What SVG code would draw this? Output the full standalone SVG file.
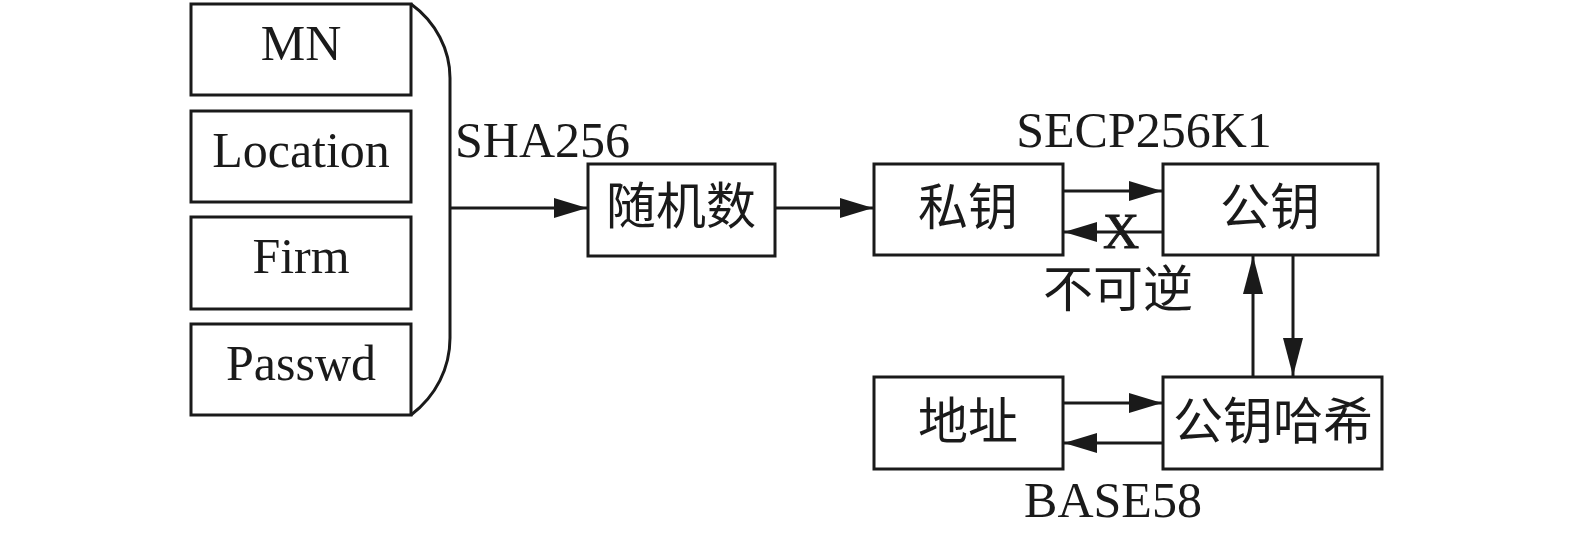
<svg xmlns="http://www.w3.org/2000/svg" width="1575" height="539" viewBox="0 0 1575 539">
<style>
.box{fill:#fff;stroke:#1a1a1a;stroke-width:3}
.ln{fill:none;stroke:#1a1a1a;stroke-width:3}
.lt{font-family:"Liberation Serif","Times New Roman",serif;font-size:50px;fill:#1a1a1a}
.cj{font-family:"Liberation Serif","Noto Sans CJK SC",serif;font-size:50px;fill:#1a1a1a}
</style>
<defs>
<marker id="ah" viewBox="0 0 33 20" refX="33" refY="10" markerWidth="33" markerHeight="20" markerUnits="userSpaceOnUse" orient="auto">
<path d="M0,0 L33,10 L0,20 Z" fill="#1a1a1a"/>
</marker>
<marker id="av" viewBox="0 0 38 20" refX="38" refY="10" markerWidth="38" markerHeight="20" markerUnits="userSpaceOnUse" orient="auto">
<path d="M0,0 L38,10 L0,20 Z" fill="#1a1a1a"/>
</marker>
</defs>
<rect width="1575" height="539" fill="#fff"/>
<g id="mn"><rect class="box" x="191" y="4" width="220" height="91"/><text class="lt" x="301" y="60" text-anchor="middle">MN</text></g>
<g id="location"><rect class="box" x="191" y="111" width="220" height="91"/><text class="lt" x="301" y="167" text-anchor="middle">Location</text></g>
<g id="firm"><rect class="box" x="191" y="217" width="220" height="92"/><text class="lt" x="301" y="273" text-anchor="middle">Firm</text></g>
<g id="passwd"><rect class="box" x="191" y="324" width="220" height="91"/><text class="lt" x="301" y="380" text-anchor="middle">Passwd</text></g>
<g id="random"><rect class="box" x="588" y="164" width="187" height="92"/><text class="cj" x="681" y="224" text-anchor="middle">随机数</text></g>
<g id="privkey"><rect class="box" x="874" y="164" width="189" height="91"/><text class="cj" x="968" y="225" text-anchor="middle">私钥</text></g>
<g id="pubkey"><rect class="box" x="1163" y="164" width="215" height="91"/><text class="cj" x="1270" y="225" text-anchor="middle">公钥</text></g>
<g id="address"><rect class="box" x="874" y="377" width="189" height="92"/><text class="cj" x="968" y="439" text-anchor="middle">地址</text></g>
<g id="pubhash"><rect class="box" x="1163" y="377" width="219" height="92"/><text class="cj" x="1273" y="439" text-anchor="middle">公钥哈希</text></g>
<g id="connectors">
<path class="ln" d="M411,4 C436,22 450,50 450,78 L450,338 C450,368 436,396 411,415"/>
<path class="ln" d="M450,208 L587,208" marker-end="url(#ah)"/>
<path class="ln" d="M775,208 L873,208" marker-end="url(#ah)"/>
<path class="ln" d="M1063,191 L1162,191" marker-end="url(#ah)"/>
<path class="ln" d="M1163,232 L1064,232" marker-end="url(#ah)"/>
<path class="ln" d="M1253,377 L1253,256" marker-end="url(#av)"/>
<path class="ln" d="M1293,255 L1293,376" marker-end="url(#av)"/>
<path class="ln" d="M1063,403 L1162,403" marker-end="url(#ah)"/>
<path class="ln" d="M1163,443 L1064,443" marker-end="url(#ah)"/>
</g>
<g id="labels">
<text class="lt" x="455" y="157">SHA256</text>
<text class="lt" x="1144" y="147" text-anchor="middle">SECP256K1</text>
<text class="lt" x="1121" y="248" text-anchor="middle" stroke="#1a1a1a" stroke-width="1">X</text>
<text class="cj" x="1118" y="307" text-anchor="middle">不可逆</text>
<text class="lt" x="1113" y="517" text-anchor="middle">BASE58</text>
</g>
</svg>
